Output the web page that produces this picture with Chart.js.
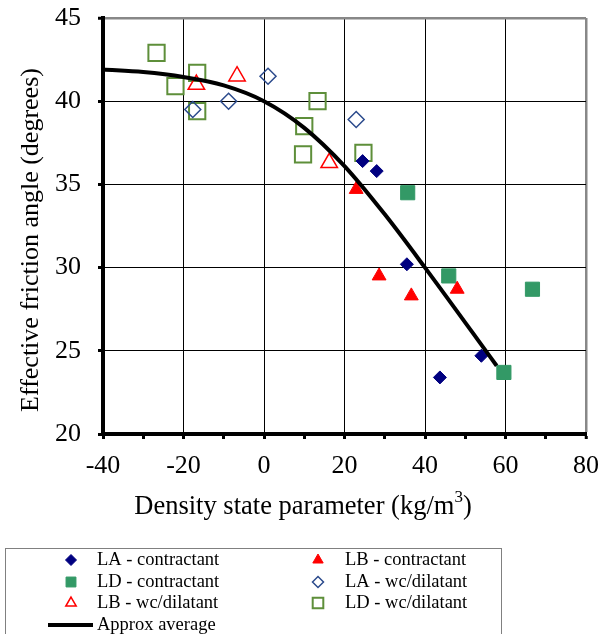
<!DOCTYPE html>
<html>
<head>
<meta charset="utf-8">
<script src="https://cdn.jsdelivr.net/npm/chart.js@4/dist/chart.umd.min.js"></script>
<style>
  html, body { margin: 0; padding: 0; background: #fff; }
  #wrap { width: 611px; height: 634px; }
</style>
</head>
<body>
<div id="wrap"><canvas id="chart" width="611" height="634"></canvas></div>
<script>
const FONT = "'Liberation Serif', 'Times New Roman', serif";

// LA - contractant
const laConX = [24.5, 28.0, 35.5, 43.7, 54.0];
const laConY = [36.4, 35.8, 30.2, 23.4, 24.7];
// LB - contractant
const lbConX = [22.9, 28.6, 36.6, 48.0];
const lbConY = [34.7, 29.5, 28.3, 28.7];
// LD - contractant
const ldConX = [35.7, 45.9, 66.7, 59.6];
const ldConY = [34.5, 29.5, 28.7, 23.7];
// LA - wc/dilatant
const laDilX = [1.0, -8.8, -17.7, 22.9];
const laDilY = [41.5, 40.0, 39.5, 38.9];
// LB - wc/dilatant
const lbDilX = [-16.8, -6.7, 16.2];
const lbDilY = [41.0, 41.5, 36.3];
// LD - wc/dilatant
const ldDilX = [-26.7, -16.6, -22.0, -16.6, 13.3, 10.0, 9.7, 24.7];
const ldDilY = [42.9, 41.7, 40.9, 39.4, 40.0, 38.5, 36.8, 36.9];
// Approx average
const avgX = [-40, -30, -20, -10, 0, 10, 20, 30, 40, 57.8];
const avgY = [41.9, 41.75, 41.45, 40.95, 40.0, 38.4, 36.1, 33.2, 30.0, 24.1];

const xTitle = "Density state parameter (kg/m";
const yTitle = "Effective friction angle (degrees)";

function pts(xs, ys) {
  return xs.map((x, i) => ({ x, y: ys[i] }));
}

const datasets = [
  { label: "LA - contractant", data: pts(laConX, laConY), pointStyle: "rectRot", pointRadius: 6.5,
    backgroundColor: "#000080", borderColor: "#000080", borderWidth: 1, legendRadius: 5.5, legendCol: 0, legendRow: 0 },
  { label: "LB - contractant", data: pts(lbConX, lbConY), pointStyle: "triangle", pointRadius: 8,
    backgroundColor: "#ff0000", borderColor: "#ff0000", borderWidth: 1, legendRadius: 6, legendCol: 1, legendRow: 0 },
  { label: "LD - contractant", data: pts(ldConX, ldConY), pointStyle: "rect", pointRadius: 10,
    backgroundColor: "#339966", borderColor: "#339966", borderWidth: 1, legendRadius: 7, legendCol: 0, legendRow: 1 },
  { label: "LA - wc/dilatant", data: pts(laDilX, laDilY), pointStyle: "rectRot", pointRadius: 8,
    backgroundColor: "rgba(0,0,0,0)", borderColor: "#2b4a8c", borderWidth: 1.5, legendRadius: 5.5, legendCol: 1, legendRow: 1 },
  { label: "LB - wc/dilatant", data: pts(lbDilX, lbDilY), pointStyle: "triangle", pointRadius: 9.5,
    backgroundColor: "rgba(0,0,0,0)", borderColor: "#ff0000", borderWidth: 1.5, legendRadius: 6, legendCol: 0, legendRow: 2 },
  { label: "LD - wc/dilatant", data: pts(ldDilX, ldDilY), pointStyle: "rect", pointRadius: 11.5,
    backgroundColor: "rgba(0,0,0,0)", borderColor: "#5e8f3a", borderWidth: 2, legendRadius: 7.5, legendCol: 1, legendRow: 2 },
  { label: "Approx average", data: pts(avgX, avgY), showLine: true, pointRadius: 0,
    borderColor: "#000", borderWidth: 4, cubicInterpolationMode: "monotone", order: -1,
    legendCol: 0, legendRow: 3, isLine: true }
];

// axis titles + boxed two-column legend, drawn under the plot
const extras = {
  id: "extras",
  afterDraw(chart) {
    const ctx = chart.ctx;
    ctx.save();
    ctx.fillStyle = "#000";
    ctx.textBaseline = "middle";

    // x title with superscript 3
    ctx.font = "26.5px " + FONT;
    const wMain = ctx.measureText(xTitle).width;
    ctx.font = "17px " + FONT;
    const wSup = ctx.measureText("3").width;
    ctx.font = "26.5px " + FONT;
    const wEnd = ctx.measureText(")").width;
    const x0 = 303 - (wMain + wSup + wEnd) / 2;
    ctx.textAlign = "left";
    ctx.fillText(xTitle, x0, 507);
    ctx.font = "17px " + FONT;
    ctx.fillText("3", x0 + wMain, 498);
    ctx.font = "26.5px " + FONT;
    ctx.fillText(")", x0 + wMain + wSup, 507);

    // y title
    ctx.save();
    ctx.translate(31, 240);
    ctx.rotate(-Math.PI / 2);
    ctx.textAlign = "center";
    ctx.font = "26px " + FONT;
    ctx.fillText(yTitle, 0, 0);
    ctx.restore();

    // legend
    ctx.strokeStyle = "#808080";
    ctx.lineWidth = 1;
    ctx.strokeRect(5.5, 548.5, 496, 100);
    const rowY = [560, 582, 603, 625];
    const markX = [71, 318];
    const textX = [97, 345];
    ctx.font = "18.5px " + FONT;
    ctx.textAlign = "left";
    chart.data.datasets.forEach((ds) => {
      const y = rowY[ds.legendRow];
      const c = ds.legendCol;
      if (ds.isLine) {
        ctx.strokeStyle = "#000";
        ctx.lineWidth = 4;
        ctx.beginPath();
        ctx.moveTo(48, y);
        ctx.lineTo(93, y);
        ctx.stroke();
      } else {
        ctx.fillStyle = ds.backgroundColor;
        ctx.strokeStyle = ds.borderColor;
        ctx.lineWidth = ds.borderWidth;
        Chart.helpers.drawPoint(ctx, { pointStyle: ds.pointStyle, radius: ds.legendRadius, rotation: 0, borderWidth: ds.borderWidth }, markX[c], y);
      }
      ctx.fillStyle = "#000";
      ctx.fillText(ds.label, textX[c], y);
    });
    ctx.restore();
  }
};

new Chart(document.getElementById("chart"), {
  type: "scatter",
  data: { datasets },
  plugins: [extras],
  options: {
    responsive: false,
    animation: false,
    layout: { padding: { left: 0, top: 18, right: 25, bottom: 110 } },
    plugins: {
      legend: { display: false },
      tooltip: { enabled: false }
    },
    scales: {
      x: {
        type: "linear",
        min: -40,
        max: 80,
        afterFit: (scale) => {
          scale.height = 90;
          scale.paddingLeft = 0;
          scale.paddingRight = 0;
        },
        border: { color: "#000", width: 4 },
        grid: {
          color: (c) => (c.tick.value === 80 ? "#888" : (c.tick.value % 20 === 0 ? "#000" : "rgba(0,0,0,0)")),
          lineWidth: (c) => (c.tick.value === 80 ? 2.5 : 1),
          tickColor: "#000",
          tickLength: 5,
          tickWidth: 3
        },
        ticks: {
          stepSize: 10,
          autoSkip: false,
          maxRotation: 0,
          padding: 12,
          color: "#000",
          font: { family: FONT, size: 26 },
          callback: (v) => (v % 20 === 0 ? String(v) : "")
        }
      },
      y: {
        type: "linear",
        min: 20,
        max: 45,
        afterFit: (scale) => {
          scale.width = 103;
          scale.paddingTop = 0;
          scale.paddingBottom = 0;
        },
        border: { color: "#000", width: 4 },
        grid: {
          color: (c) => (c.tick.value === 45 ? "#888" : "#000"),
          lineWidth: (c) => (c.tick.value === 45 ? 2.5 : 1),
          tickColor: "#000",
          tickLength: 5,
          tickWidth: 3
        },
        ticks: {
          stepSize: 5,
          padding: 17,
          color: "#000",
          font: { family: FONT, size: 26 }
        }
      }
    }
  }
});
</script>
</body>
</html>
